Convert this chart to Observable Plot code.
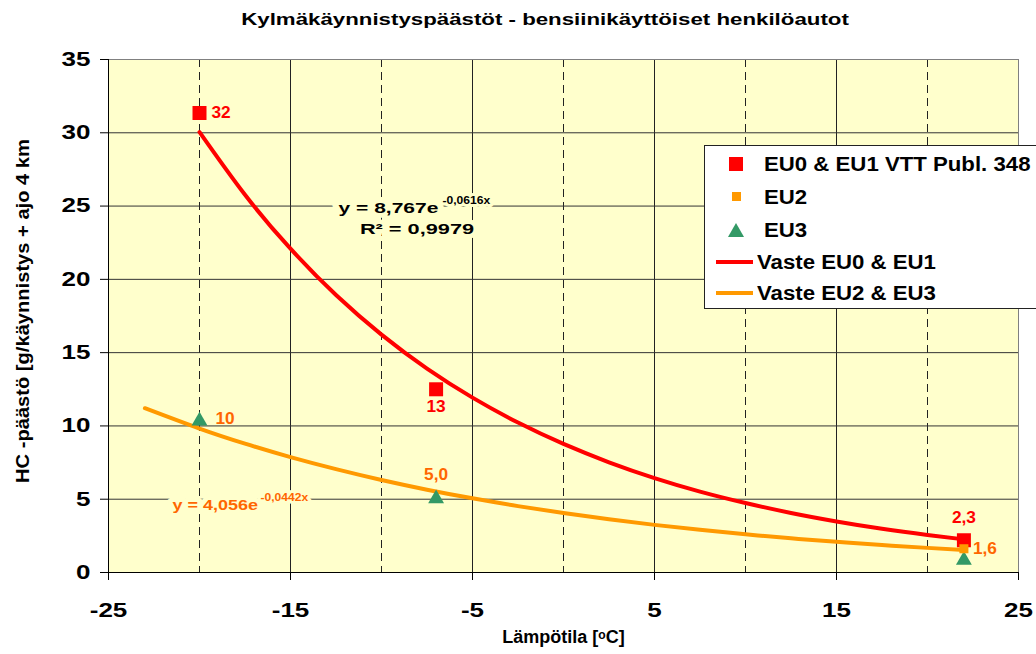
<!DOCTYPE html>
<html>
<head>
<meta charset="utf-8">
<script src="https://cdn.jsdelivr.net/npm/d3@7"></script>
<script src="https://cdn.jsdelivr.net/npm/@observablehq/plot@0.6"></script>
<style>
  body { margin: 0; background: #ffffff; font-family: "Liberation Sans", Arial, sans-serif; }
  #wrap { position: relative; width: 1036px; height: 654px; overflow: hidden; }
  #title { position: absolute; left: 545px; top: 10px; white-space: nowrap; font-weight: bold; font-size: 17px;
           transform: translateX(-50%) scaleX(1.31); color: #000; }
  #legend { position: absolute; left: 704px; top: 145px; width: 345px; height: 164px; background: #ffffff;
            border: 1px solid #222; box-sizing: border-box; }
  .row { position: absolute; left: 0; height: 30px; width: 340px; }
  .lt { position: absolute; top: 50%; white-space: nowrap; font-weight: bold; font-size: 20px; color: #000;
        transform-origin: left center; transform: translateY(-50%) scaleX(1.11); }
  .mk { position: absolute; }
</style>
</head>
<body>
<div id="wrap">
  <div id="chart"></div>
  <div id="title"></div>
  <div id="legend"></div>
</div>
<script>
// ---- Data ----
const titleText = "Kylmäkäynnistyspäästöt - bensiinikäyttöiset henkilöautot";
const xLabelText = "Lämpötila [ᵒC]";
const yLabelText = "HC -päästö [g/käynnistys + ajo 4 km";

// EU0 & EU1 VTT Publ. 348 (red squares)
const eu01Temp = [-20, -7, 22];
const eu01HC = [31.35, 12.5, 2.2];
const eu01Labels = ["32", "13", "2,3"];

// EU2 (small orange square)
const eu2Temp = [22];
const eu2HC = [1.62];
const eu2Labels = ["1,6"];

// EU3 (green triangles)
const eu3Temp = [-20, -7, 22];
const eu3HC = [10.5, 5.2, 1.0];
const eu3Labels = ["10", "5,0", ""];

// Fitted curve "Vaste EU0 & EU1"
const redFitTemp = [-20, -17.5, -15, -12.5, -10, -7.5, -5, -2.5, 0, 2.5, 5, 7.5, 10, 12.5, 15, 17.5, 20, 22];
const redFitHC   = [30.05, 25.77, 22.09, 18.93, 16.23, 13.91, 11.93, 10.23, 8.77, 7.52, 6.44, 5.52, 4.74, 4.06, 3.48, 2.98, 2.56, 2.26];

// Fitted curve "Vaste EU2 & EU3"
const orangeFitTemp = [-23, -20, -17.5, -15, -12.5, -10, -7.5, -5, -2.5, 0, 2.5, 5, 7.5, 10, 12.5, 15, 17.5, 20, 22];
const orangeFitHC   = [11.21, 9.82, 8.79, 7.87, 7.05, 6.31, 5.65, 5.06, 4.53, 4.06, 3.63, 3.25, 2.91, 2.61, 2.33, 2.09, 1.87, 1.68, 1.53];

const xTicks = [-25, -15, -5, 5, 15, 25];
const xTickLabels = ["-25", "-15", "-5", "5", "15", "25"];
const xDashed = [-20, -10, 0, 10, 20];
const yTicks = [0, 5, 10, 15, 20, 25, 30, 35];
const yTickLabels = ["0", "5", "10", "15", "20", "25", "30", "35"];

const legendItems = ["EU0 & EU1 VTT Publ. 348", "EU2", "EU3", "Vaste EU0 & EU1", "Vaste EU2 & EU3"];

const eqRed = "y = 8,767e";
const eqRedExp = "-0,0616x";
const eqRedR2 = "R² = 0,9979";
const eqOrange = "y = 4,056e";
const eqOrangeExp = "-0,0442x";

// ---- Build tables ----
const eu01 = eu01Temp.map((t, i) => ({t, v: eu01HC[i], label: eu01Labels[i]}));
const eu2 = eu2Temp.map((t, i) => ({t, v: eu2HC[i], label: eu2Labels[i]}));
const eu3 = eu3Temp.map((t, i) => ({t, v: eu3HC[i], label: eu3Labels[i]}));
const redFit = redFitTemp.map((t, i) => ({t, v: redFitHC[i]}));
const orangeFit = orangeFitTemp.map((t, i) => ({t, v: orangeFitHC[i]}));

const RED = "#FF0000", ORANGE = "#FF9900", ORANGE_TXT = "#FF6600", GREEN = "#339966", BG = "#FFFFCC";
const FONT = "Liberation Sans, Arial, sans-serif";

const chart = Plot.plot({
  width: 1036,
  height: 654,
  marginLeft: 108,
  marginRight: 18,
  marginTop: 59,
  marginBottom: 82,
  x: {domain: [-25, 25], axis: null},
  y: {domain: [0, 35], axis: null},
  style: {fontFamily: FONT, background: "transparent", overflow: "visible"},
  marks: [
    Plot.frame({fill: BG, stroke: null}),
    Plot.ruleX(xTicks.slice(1, -1), {stroke: "#222", strokeWidth: 1}),
    Plot.ruleX(xDashed, {stroke: "#222", strokeWidth: 1, strokeDasharray: "8,5"}),
    Plot.ruleY(yTicks.slice(1, -1), {stroke: "#333", strokeWidth: 1}),
    Plot.frame({stroke: "#808080", strokeWidth: 1}),
    Plot.ruleX([-25], {stroke: "#000"}),
    Plot.ruleY([0], {stroke: "#000"}),
    Plot.axisX({ticks: xTicks, tickFormat: (d, i) => xTickLabels[i], tickSize: 8, tickPadding: 22,
                fontSize: 20, fontWeight: "bold", label: null, stroke: "#000", fill: "#000"}),
    Plot.axisY({ticks: yTicks, tickFormat: (d, i) => yTickLabels[i], tickSize: 8, tickPadding: 10,
                fontSize: 20, fontWeight: "bold", label: null, stroke: "#000", fill: "#000"}),
    Plot.text([yLabelText], {frameAnchor: "left", textAnchor: "middle", dx: -86, dy: -5, rotate: -90, fontSize: 19, fontWeight: "bold", fill: "#000"}),
    Plot.text([xLabelText], {frameAnchor: "bottom", dy: 70, fontSize: 18, fontWeight: "bold", fill: "#000"}),
    // fitted curves
    Plot.line(orangeFit, {x: "t", y: "v", stroke: ORANGE, strokeWidth: 4, curve: "natural"}),
    Plot.line(redFit, {x: "t", y: "v", stroke: RED, strokeWidth: 4, curve: "natural"}),
    // markers
    Plot.dot(eu3, {x: "t", y: "v", symbol: "triangle", r: 5.9, dy: 2.3, fill: GREEN, stroke: null}),
    Plot.dot(eu01, {x: "t", y: "v", symbol: "square", r: 7.9, fill: RED, stroke: null}),
    Plot.dot(eu2, {x: "t", y: "v", symbol: "square", r: 5.1, fill: ORANGE, stroke: null}),
    // data labels
    Plot.text(eu01, {filter: (d, i) => i === 0, x: "t", y: "v", text: "label", dx: 12, textAnchor: "start", fill: RED, fontSize: 16, fontWeight: "bold"}),
    Plot.text(eu01, {filter: (d, i) => i === 1, x: "t", y: "v", text: "label", dy: 18, fill: RED, fontSize: 16, fontWeight: "bold"}),
    Plot.text(eu01, {filter: (d, i) => i === 2, x: "t", y: "v", text: "label", dy: -22, fill: RED, fontSize: 16, fontWeight: "bold"}),
    Plot.text(eu3, {filter: (d, i) => i === 0, x: "t", y: "v", text: "label", dx: 16, textAnchor: "start", fill: ORANGE_TXT, fontSize: 16, fontWeight: "bold"}),
    Plot.text(eu3, {filter: (d, i) => i === 1, x: "t", y: "v", text: "label", dy: -21, fill: ORANGE_TXT, fontSize: 16, fontWeight: "bold"}),
    Plot.text(eu2, {x: "t", y: "v", text: "label", dx: 9, textAnchor: "start", fill: ORANGE_TXT, fontSize: 16, fontWeight: "bold"}),
    // trendline equations
    Plot.text([eqRed], {x: -12.36, y: 24.83, textAnchor: "start", fill: "#000", fontSize: 15, fontWeight: "bold", stroke: BG, strokeWidth: 9}),
    Plot.text([eqRedExp], {x: -6.65, y: 25.37, textAnchor: "start", fill: "#000", fontSize: 11, fontWeight: "bold", stroke: BG, strokeWidth: 6}),
    Plot.text([eqRedR2], {x: -8.05, y: 23.4, fill: "#000", fontSize: 15, fontWeight: "bold", stroke: BG, strokeWidth: 9}),
    Plot.text([eqOrange], {x: -21.48, y: 4.57, textAnchor: "start", fill: ORANGE_TXT, fontSize: 15, fontWeight: "bold", stroke: BG, strokeWidth: 9}),
    Plot.text([eqOrangeExp], {x: -16.65, y: 5.12, textAnchor: "start", fill: ORANGE_TXT, fontSize: 11, fontWeight: "bold", stroke: BG, strokeWidth: 6})
  ]
});
document.getElementById("chart").appendChild(chart);

// horizontal stretch of text (about each text's own anchor) to mimic the reference's wide lettering
function stretchText(t, k) {
  const tr = t.getAttribute("transform");
  if (tr) {
    t.setAttribute("transform", tr + ` scale(${k},1)`);
  } else {
    const x = +(t.getAttribute("x") || 0), y = +(t.getAttribute("y") || 0);
    t.setAttribute("x", 0); t.setAttribute("y", 0);
    t.setAttribute("transform", `translate(${x},${y}) scale(${k},1)`);
  }
}
const factors = new Map([
  [yLabelText, 1.06], [eqRed, 1.4], [eqRedR2, 1.45], [eqOrange, 1.2],
  [eqRedExp, 1.1], [eqOrangeExp, 1.1]
]);
[...eu01Labels, ...eu2Labels, ...eu3Labels].forEach(s => { if (s) factors.set("lbl:" + s, 1.08); });
chart.querySelectorAll("text").forEach(t => {
  const s = t.textContent;
  const axisG = t.closest('g[aria-label$="tick label"]');
  if (axisG) { stretchText(t, 1.3); return; }
  if (factors.has(s)) { stretchText(t, factors.get(s)); return; }
  if (factors.has("lbl:" + s)) stretchText(t, factors.get("lbl:" + s));
});

// title
document.getElementById("title").textContent = titleText;

// legend
const legend = document.getElementById("legend");
const rowTops = [3, 36, 69, 101, 132];
legendItems.forEach((name, i) => {
  const row = document.createElement("div");
  row.className = "row";
  row.style.top = rowTops[i] + "px";
  const mk = document.createElement("div");
  mk.className = "mk";
  let textLeft = 59;
  if (i === 0) {
    Object.assign(mk.style, {left: "24px", top: "8px", width: "14px", height: "14px", background: RED});
  } else if (i === 1) {
    Object.assign(mk.style, {left: "27px", top: "10px", width: "9px", height: "9px", background: ORANGE});
  } else if (i === 2) {
    Object.assign(mk.style, {left: "23px", top: "8px", width: "0", height: "0",
      borderLeft: "8px solid transparent", borderRight: "8px solid transparent", borderBottom: "14px solid " + GREEN});
  } else {
    Object.assign(mk.style, {left: "11px", top: "13px", width: "37px", height: "4px", background: i === 3 ? RED : ORANGE});
    textLeft = 52;
  }
  row.appendChild(mk);
  const tx = document.createElement("div");
  tx.className = "lt";
  tx.style.left = textLeft + "px";
  tx.textContent = name;
  row.appendChild(tx);
  legend.appendChild(row);
});
</script>
</body>
</html>
